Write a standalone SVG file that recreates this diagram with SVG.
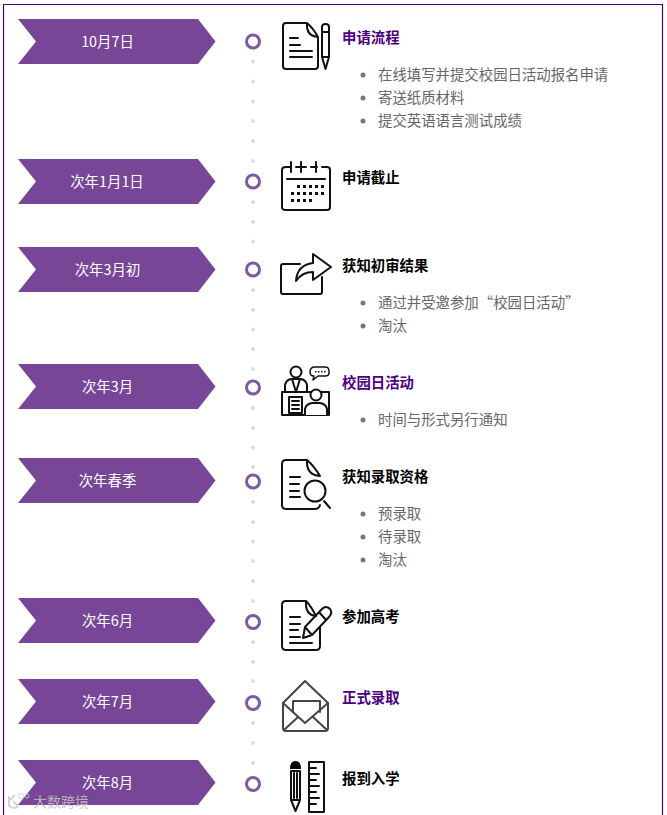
<svg xmlns="http://www.w3.org/2000/svg" width="667" height="815" viewBox="0 0 667 815">
<style>
text{font-family:"Noto Sans CJK SC","Liberation Sans",sans-serif;font-size:14.400px}
.d{fill:#fff;text-anchor:middle}
.t{fill:#000;font-weight:700}
.l{fill:#4b0082;font-weight:700}
.i{fill:#666}
.a{fill:#774696}
.c{fill:#fff;stroke:#7f5a9f;stroke-width:3}
.p{fill:#dcdce0}
.b{fill:#777}
.s{fill:none;stroke:#111;stroke-width:2;stroke-linejoin:round;stroke-linecap:round}
</style>
<defs>
<polygon id="arr" class="a" points="18,0 198,0 215.500,22.500 198,45 18,45 36,22.500"/>
</defs>
<rect width="667" height="815" fill="#fff"/>
<path d="M3.500,815V4.500H662.500V815" fill="none" stroke="#4b0082" stroke-width="1.200"/>
<g id="connectors">
<g class="p">
<circle cx="253" cy="61.500" r="2"/><circle cx="253" cy="81.500" r="2"/><circle cx="253" cy="101.500" r="2"/><circle cx="253" cy="121" r="2"/><circle cx="253" cy="141" r="2"/><circle cx="253" cy="161" r="2"/>
<circle cx="253" cy="202" r="2"/><circle cx="253" cy="222" r="2"/><circle cx="253" cy="241.500" r="2"/>
<circle cx="253" cy="290" r="2"/><circle cx="253" cy="310" r="2"/><circle cx="253" cy="329.500" r="2"/><circle cx="253" cy="349" r="2"/><circle cx="253" cy="369" r="2"/>
<circle cx="253" cy="408" r="2"/><circle cx="253" cy="428" r="2"/><circle cx="253" cy="447.500" r="2"/><circle cx="253" cy="467" r="2"/>
<circle cx="253" cy="502" r="2"/><circle cx="253" cy="522" r="2"/><circle cx="253" cy="541.500" r="2"/><circle cx="253" cy="561" r="2"/><circle cx="253" cy="581" r="2"/><circle cx="253" cy="601" r="2"/>
<circle cx="253" cy="642" r="2"/><circle cx="253" cy="662" r="2"/><circle cx="253" cy="681" r="2"/>
<circle cx="253" cy="723" r="2"/><circle cx="253" cy="743" r="2"/><circle cx="253" cy="763" r="2"/>
</g>
</g>
<g id="node1">
<use href="#arr" y="19"/><text class="d" x="107.500" y="47">10月7日</text>
<circle class="c" cx="253" cy="41.500" r="6.500"/>
<path class="s" d="M318,37V66Q318,69 315,69H286Q283,69 283,66V26Q283,23 286,23H307Q313,28 318,37ZM307,23Q306,36 318,37"/>
<path class="s" d="M290,38H298M290,45H300M290,51H312M290,57H312"/>
<path class="s" d="M322,27Q322,24 325.500,24Q329,24 329,27V57L325.500,69L322,57ZM322,32H329M322,57H329"/>
<text class="l" x="342" y="43">申请流程</text>
<circle class="b" cx="363" cy="75" r="2.500"/><text class="i" x="378" y="80">在线填写并提交校园日活动报名申请</text>
<circle class="b" cx="363" cy="98" r="2.500"/><text class="i" x="378" y="103">寄送纸质材料</text>
<circle class="b" cx="363" cy="121" r="2.500"/><text class="i" x="378" y="126">提交英语语言测试成绩</text>
</g>
<g id="node2">
<use href="#arr" y="159"/><text class="d" x="107" y="187">次年1月1日</text>
<circle class="c" cx="253" cy="181.500" r="6.500"/>
<path class="s" d="M291,167H286Q282,167 282,170V207Q282,210 286,210H327Q330,210 330,207V170Q330,167 327,167H322M296,167H306M311,167H317M291,162V172M301,162V172M316,162V172"/>
<path class="s" d="M287,179H325"/>
<path d="M297,185h3v3h-3zM303,185h3v3h-3zM309,185h3v3h-3zM315,185h3v3h-3zM321,185h3v3h-3zM291,192h3v3h-3zM297,192h3v3h-3zM303,192h3v3h-3zM309,192h3v3h-3zM315,192h3v3h-3zM321,192h3v3h-3zM291,199h3v3h-3zM297,199h3v3h-3zM303,199h3v3h-3zM309,199h3v3h-3z" fill="#111"/>
<text class="t" x="342" y="183">申请截止</text>
</g>
<g id="node3">
<use href="#arr" y="247"/><text class="d" x="107.500" y="275">次年3月初</text>
<circle class="c" cx="253" cy="269.500" r="6.500"/>
<path class="s" d="M300,264H283Q281,264 281,266V292Q281,294 283,294H320Q322,294 322,292V277"/>
<path class="s" d="M296,281Q297,265 313,263V254L331,267L313,280V272Q302,272 296,281Z"/>
<text class="t" x="342" y="271">获知初审结果</text>
<circle class="b" cx="363" cy="303" r="2.500"/><text class="i" x="378" y="308">通过并受邀参加“校园日活动”</text>
<circle class="b" cx="363" cy="326" r="2.500"/><text class="i" x="378" y="331">淘汰</text>
</g>
<g id="node4">
<use href="#arr" y="364"/><text class="d" x="107.500" y="392">次年3月</text>
<circle class="c" cx="253" cy="387.500" r="6.500"/>
<g class="s">
<path d="M282,392H329V415H282Z"/>
<circle cx="296" cy="372" r="5.500"/>
<path d="M285,392V385Q286,380 291,379H301Q306,380 307,385V392M292,379L296,392L300,379"/>
<path d="M289,397H302V413H289ZM292,401H299M292,405H299M292,409H299"/>
<circle cx="316" cy="395" r="5.500" fill="#fff" style="fill:#fff"/>
<path d="M305,415V409Q306,404 312,403H320Q326,404 327,409V415" style="fill:#fff"/>
<path d="M315,367H325Q329,367 329,371V373Q329,376 325,376H318L313,380L314,376Q310,376 310,372Q310,367 315,367Z" stroke-width="1.500"/>
</g>
<path d="M315,371h1.500v1.500h-1.500zM318,371h1.500v1.500h-1.500zM321,371h1.500v1.500h-1.500zM324,371h1.500v1.500h-1.500z" fill="#111"/>
<text class="l" x="342" y="388">校园日活动</text>
<circle class="b" cx="363" cy="420" r="2.500"/><text class="i" x="378" y="425">时间与形式另行通知</text>
</g>
<g id="node5">
<use href="#arr" y="458"/><text class="d" x="107.500" y="486">次年春季</text>
<circle class="c" cx="253" cy="481.500" r="6.500"/>
<path class="s" d="M320,476Q314,466 307,460H286Q282,460 282,464V505Q282,509 286,509H315Q319,509 320,505M307,460Q306,475 320,476"/>
<path class="s" d="M290,477H300M290,484H299M290,491H299M290,497H300"/>
<circle class="s" cx="315" cy="491" r="10.500"/>
<path class="s" d="M324,501L330,508"/>
<text class="t" x="342" y="482">获知录取资格</text>
<circle class="b" cx="363" cy="514" r="2.500"/><text class="i" x="378" y="519">预录取</text>
<circle class="b" cx="363" cy="537" r="2.500"/><text class="i" x="378" y="542">待录取</text>
<circle class="b" cx="363" cy="560" r="2.500"/><text class="i" x="378" y="565">淘汰</text>
</g>
<g id="node6">
<use href="#arr" y="598"/><text class="d" x="107.500" y="626">次年6月</text>
<circle class="c" cx="253" cy="622" r="6.500"/>
<path class="s" d="M320,627V646Q320,650 316,650H286Q282,650 282,646V605Q282,601 286,601H306Q311,606 316,616M306,601Q305,615 316,616"/>
<path class="s" d="M290,617H300M290,624H300M290,630H298M290,637H300M290,643H312"/>
<path class="s" d="M303,638L305,627L322,609Q326,605 330,609Q333,613 329,617L312,635ZM305,627L312,635M319,612L326,620"/>
<text class="t" x="342" y="622">参加高考</text>
</g>
<g id="node7">
<use href="#arr" y="679"/><text class="d" x="107.500" y="707">次年7月</text>
<circle class="c" cx="253" cy="703" r="6.500"/>
<g class="s" style="stroke:#444">
<path d="M283,703L305,681L328,703V728Q328,731 325,731H286Q283,731 283,728Z"/>
<path d="M293,712V701H320V712"/>
<path d="M283,703L305,723L328,703M284,730L298,717M327,730L313,717"/>
</g>
<text class="l" x="342" y="703">正式录取</text>
</g>
<g id="node8">
<use href="#arr" y="760"/><text class="d" x="107.500" y="788">次年8月</text>
<circle class="c" cx="253" cy="784" r="6.500"/>
<path d="M290,769Q290,761 295.500,761Q301,761 301,769Z" fill="#000"/>
<path class="s" d="M291,771H300V800L295.500,811L291,800ZM294,773V798M297,773V798M291,800H300"/>
<path class="s" d="M309,762H324V812H309ZM309,768H316M309,774H319M309,780H316M309,786H319M309,792H316M309,798H319M309,804H316"/>
<text class="t" x="342" y="784">报到入学</text>
</g>
<g id="watermark" opacity=".85">
<path d="M9,796V806Q12,809 18,807M10,800L15,795M13,801L18,806" fill="none" stroke="#ccc" stroke-width="2"/>
<circle cx="21" cy="796" r="2.500" fill="none" stroke="#ccc"/><circle cx="27" cy="796" r="2" fill="none" stroke="#ccc"/>
<text x="33" y="807" style="font-size:14px" fill="#c4c4c4">大数跨境</text>
</g>
</svg>
